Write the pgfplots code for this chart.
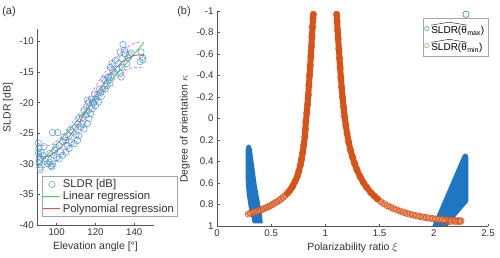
\documentclass[border=0pt]{standalone}
\usepackage{fontspec}
\setmainfont{Liberation Sans}
\usepackage{pgfplots}
\pgfplotsset{compat=1.18}
\definecolor{mblue}{HTML}{0072BD}
\definecolor{fblue}{HTML}{1F76C2}
\definecolor{morange}{HTML}{D95319}
\definecolor{lorange}{HTML}{EBA07E}
\definecolor{sblue}{HTML}{4A9AD8}
\definecolor{axgray}{HTML}{555555}
\definecolor{txtgray}{HTML}{333333}
\definecolor{lgreen}{HTML}{3EDC3E}
\definecolor{lred}{HTML}{FF4A4A}
\definecolor{lmag}{HTML}{F050F0}
\newsavebox\hmax
\newsavebox\hmin
\begin{document}
\sbox\hmax{\tikz[baseline=(t.base)]{\node[inner sep=0pt](t){SLDR(θ}; \draw[line width=0.35pt] ([yshift=1pt]t.north west) -- ([yshift=4pt]t.north) -- ([yshift=1pt]t.north east);}\textsubscript{max})}%
\sbox\hmin{\tikz[baseline=(t.base)]{\node[inner sep=0pt](t){SLDR(θ}; \draw[line width=0.35pt] ([yshift=1pt]t.north west) -- ([yshift=4pt]t.north) -- ([yshift=1pt]t.north east);}\textsubscript{min})}%
\begin{tikzpicture}
\useasboundingbox (0pt,0pt) rectangle (500pt,257pt);
\node[font=\fontsize{11}{12}\selectfont, text=txtgray] at (9pt,245pt) {(a)};
\node[font=\fontsize{11}{12}\selectfont, text=txtgray] at (184pt,245pt) {(b)};
\pgfplotsset{
  mystyle/.style={
    scale only axis, anchor=south west,
    axis x line*=bottom, axis y line*=left,
    axis line style={axgray, line width=0.5pt, -},
    tick style={axgray, line width=0.5pt}, major tick length=2.5pt,
    tick label style={font=\fontsize{9.7}{10}\selectfont, text=txtgray},
    label style={font=\fontsize{10.5}{12}\selectfont, text=txtgray},
    /pgf/number format/assume math mode=true,
    legend cell align=left,
  }
}
\begin{axis}[mystyle,
  at={(37.3pt,32pt)}, width=116.3pt, height=195.7pt,
  xmin=90, xmax=150, ymin=-40, ymax=-8,
  xtick={100,120,140}, ytick={-40,-35,-30,-25,-20,-15,-10},
  xlabel={Elevation angle [°]}, ylabel={SLDR [dB]},
  ylabel style={at={(ticklabel cs:0.6)}},
  legend style={at={(0.038,0.042)}, anchor=south west, draw=gray!70, fill=white,
    font=\fontsize{11.3}{10.5}\selectfont, inner sep=1pt, row sep=-1.5pt, text=txtgray},
]
\addplot[only marks, mark=o, mark size=3.2pt, sblue, line width=0.5pt] coordinates {
(90.5,-26.6) (90.8,-27.5) (90.6,-28.2) (91.0,-28.8) (91.2,-29.4) (90.9,-29.9) (91.3,-30.6) (91.5,-31.0)
(92.0,-28.1) (92.9,-28.6) (93.5,-27.2) (94.0,-29.6) (94.5,-29.2) (95.3,-30.0) (96.2,-29.7) (96.5,-28.3)
(97.1,-30.3) (97.9,-30.0) (97.5,-30.5) (97.9,-24.9) (100.5,-24.9) (98.5,-28.6) (99.0,-27.8) (99.6,-27.3)
(100.0,-29.0) (101.3,-29.2) (101.4,-27.0) (102.0,-28.0) (103.0,-28.6) (103.1,-26.4) (104.0,-25.6) (104.7,-26.2)
(104.7,-28.1) (105.5,-27.0) (106.4,-25.4) (106.4,-27.5) (107.0,-24.5) (107.5,-26.5) (108.2,-24.8) (109.0,-26.7)
(109.8,-24.0) (110.0,-25.2) (110.7,-26.2) (111.0,-23.5) (111.5,-22.6) (111.5,-25.4) (112.3,-24.0) (113.3,-22.4)
(113.5,-23.6) (114.1,-21.3) (114.1,-24.3) (115.0,-22.0) (115.6,-21.4) (115.8,-19.6) (115.8,-23.4) (116.3,-20.0)
(116.6,-22.6) (117.0,-20.7) (117.5,-21.8) (118.0,-19.4) (118.4,-19.9) (118.4,-21.0) (119.0,-20.0) (119.5,-18.6)
(120.0,-19.4) (120.0,-20.5) (120.9,-18.8) (121.5,-19.9) (122.0,-17.8) (122.6,-18.3) (123.0,-19.0) (123.8,-17.7)
(124.3,-16.2) (125.0,-17.8) (125.2,-16.4) (126.0,-17.2) (126.3,-15.9) (126.8,-15.8) (127.5,-16.8) (127.7,-14.2)
(128.0,-15.6) (128.6,-13.6) (128.9,-14.7) (129.5,-15.0) (130.3,-13.1) (131.0,-14.5) (132.0,-13.6) (132.8,-11.7)
(133.0,-15.2) (133.3,-15.8) (133.7,-12.8) (133.7,-14.2) (134.2,-10.5) (135.0,-11.4) (135.4,-12.0) (136.2,-13.6)
(137.0,-12.6) (137.5,-12.2) (138.4,-11.9) (143.0,-13.3) (143.5,-11.7) (144.2,-12.6) (144.5,-13.0)
};
\addlegendentry{SLDR [dB]}
\addplot[lgreen, line width=0.8pt] coordinates {(90,-30.5) (145,-10.2)};
\addlegendentry{Linear regression}
\addplot[lred, line width=0.8pt] coordinates {
(90,-28.6) (92.5,-28.85) (95,-28.8) (97.5,-28.5) (100,-27.9) (102.5,-27.2) (105,-26.2) (107.5,-25.1)
(110,-24.0) (112.5,-22.8) (115,-21.5) (117.5,-20.2) (120,-18.9) (122.5,-17.7) (125,-16.5) (127.5,-15.4)
(130,-14.5) (132.5,-13.7) (135,-13.0) (137.5,-12.6) (140,-12.3) (142.5,-12.2) (145,-12.3)};
\addlegendentry{Polynomial regression}
\addplot[lmag, line width=0.6pt, dash pattern=on 3pt off 2pt, forget plot] coordinates {
(90,-26.6) (92.5,-27.0) (95,-27.1) (97.5,-26.9) (100,-26.3) (102.5,-25.6) (105,-24.6) (107.5,-23.5)
(110,-22.4) (112.5,-21.3) (115,-20.0) (117.5,-18.7) (120,-17.4) (122.5,-16.2) (125,-15.0) (127.5,-13.9)
(130,-12.9) (132.5,-12.0) (135,-11.2) (137.5,-10.7) (140,-10.3) (142.5,-10.1) (145,-10.1)};
\addplot[lmag, line width=0.6pt, dash pattern=on 3pt off 2pt, forget plot] coordinates {
(90,-30.6) (92.5,-30.7) (95,-30.5) (97.5,-30.1) (100,-29.5) (102.5,-28.8) (105,-27.8) (107.5,-26.7)
(110,-25.6) (112.5,-24.3) (115,-23.0) (117.5,-21.7) (120,-20.4) (122.5,-19.2) (125,-18.0) (127.5,-16.9)
(130,-16.1) (132.5,-15.4) (135,-14.8) (137.5,-14.4) (140,-14.2) (142.5,-14.2) (145,-14.4)};
\end{axis}
\begin{axis}[mystyle,
  at={(217pt,31pt)}, width=271pt, height=215pt,
  xmin=0, xmax=2.5, ymin=-1, ymax=1, y dir=reverse, clip=false,
  xtick={0,0.5,1,1.5,2,2.5},
  ytick={-1,-0.8,-0.6,-0.4,-0.2,0,0.2,0.4,0.6,0.8,1},
  xlabel={Polarizability ratio $\xi$}, ylabel={Degree of orientation $\kappa$},
  ylabel style={at={(ticklabel cs:0.45)}},
  legend style={at={(1,0.966)}, anchor=north east, draw=gray!70, fill=white,
    font=\fontsize{10.5}{10}\selectfont, inner sep=1.5pt, row sep=0pt, text=txtgray},
]
% blue regions
\addplot[fill=fblue, draw=fblue, line width=1.4pt, line join=round, forget plot] coordinates {
(0.27,0.30) (0.277,0.26) (0.29,0.248) (0.303,0.255) (0.315,0.285) (0.36,0.62) (0.40,0.84) (0.412,0.93)
(0.415,0.97) (0.335,0.97) (0.328,0.93) (0.30,0.83) (0.28,0.70) (0.27,0.55)} -- cycle;
\addplot[fill=fblue, draw=fblue, line width=1.4pt, line join=round, forget plot] coordinates {
(1.995,0.995) (2.27,0.35) (2.285,0.332) (2.302,0.337) (2.312,0.36) (2.312,0.77) (2.13,0.985) (2.125,0.995)} -- cycle;
\addplot[only marks, mark=o, mark size=3.2pt, mblue, line width=0.5pt, forget plot] coordinates {(2.297,-0.969)};
% orange light underlay (tails)
\addplot[lorange, line width=5pt, line join=round, line cap=round, forget plot] coordinates {
(0.29,0.888) (0.31,0.881) (0.33,0.875) (0.35,0.868) (0.37,0.861) (0.39,0.855) (0.41,0.848) (0.43,0.840)
(0.45,0.831) (0.47,0.822) (0.49,0.812) (0.51,0.801) (0.53,0.789) (0.55,0.777) (0.57,0.764) (0.59,0.750)
(0.61,0.733) (0.63,0.715) (0.65,0.695) (0.67,0.672) (0.69,0.643)};
\addplot[lorange, line width=5pt, line join=round, line cap=round, forget plot] coordinates {
(1.42,0.69) (1.45,0.72) (1.48,0.748) (1.51,0.772) (1.54,0.793) (1.57,0.811) (1.60,0.825) (1.63,0.839)
(1.66,0.851) (1.69,0.862) (1.72,0.872) (1.75,0.882) (1.78,0.890) (1.81,0.898) (1.84,0.905) (1.87,0.911)
(1.90,0.917) (1.93,0.922) (1.96,0.927) (1.99,0.931) (2.02,0.935) (2.05,0.938) (2.08,0.941) (2.11,0.943)
(2.14,0.946) (2.17,0.948) (2.20,0.949) (2.23,0.951) (2.25,0.952)};
% orange thick core
\addplot[morange, line width=6pt, line join=round, line cap=round, forget plot] coordinates {
(0.65,0.695) (0.67,0.672) (0.69,0.643)
(0.70,0.625) (0.72,0.585) (0.74,0.54) (0.755,0.49) (0.77,0.43) (0.78,0.38) (0.79,0.32) (0.80,0.25)
(0.81,0.17) (0.815,0.10) (0.82,0.03) (0.828,-0.05) (0.835,-0.13) (0.842,-0.22) (0.848,-0.31) (0.854,-0.40)
(0.86,-0.49) (0.866,-0.58) (0.871,-0.67) (0.876,-0.76) (0.881,-0.85) (0.886,-0.93) (0.889,-0.97)};
\addplot[morange, line width=6pt, line join=round, line cap=round, forget plot] coordinates {
(1.104,-0.97) (1.108,-0.90) (1.113,-0.82) (1.118,-0.74) (1.124,-0.65) (1.130,-0.56) (1.136,-0.47) (1.143,-0.38)
(1.150,-0.29) (1.158,-0.20) (1.167,-0.11) (1.177,-0.02) (1.188,0.06) (1.20,0.14) (1.215,0.22) (1.23,0.29)
(1.25,0.36) (1.27,0.42) (1.29,0.475) (1.32,0.54) (1.35,0.595) (1.38,0.64) (1.42,0.69) (1.45,0.72) (1.48,0.748)};
% orange markers
\addplot[only marks, mark=o, mark size=3.2pt, morange, line width=0.6pt, forget plot] coordinates {
(0.29,0.888) (0.31,0.881) (0.33,0.875) (0.35,0.868) (0.37,0.861) (0.39,0.855) (0.41,0.848) (0.43,0.840)
(0.45,0.831) (0.47,0.822) (0.49,0.812) (0.51,0.801) (0.53,0.789) (0.55,0.777) (0.57,0.764) (0.59,0.750)
(0.61,0.733) (0.63,0.715) (0.65,0.695) (0.67,0.672) (0.69,0.643)
(0.70,0.625) (0.72,0.585) (0.74,0.54) (0.755,0.49) (0.77,0.43) (0.78,0.38) (0.79,0.32) (0.80,0.25)
(0.81,0.17) (0.815,0.10) (0.82,0.03) (0.828,-0.05) (0.835,-0.13) (0.842,-0.22) (0.848,-0.31) (0.854,-0.40)
(0.86,-0.49) (0.866,-0.58) (0.871,-0.67) (0.876,-0.76) (0.881,-0.85) (0.886,-0.93) (0.889,-0.97)
(1.104,-0.97) (1.108,-0.90) (1.113,-0.82) (1.118,-0.74) (1.124,-0.65) (1.130,-0.56) (1.136,-0.47) (1.143,-0.38)
(1.150,-0.29) (1.158,-0.20) (1.167,-0.11) (1.177,-0.02) (1.188,0.06) (1.20,0.14) (1.215,0.22) (1.23,0.29)
(1.25,0.36) (1.27,0.42) (1.29,0.475) (1.32,0.54) (1.35,0.595) (1.38,0.64)
(1.42,0.69) (1.45,0.72) (1.48,0.748) (1.51,0.772) (1.54,0.793) (1.57,0.811) (1.60,0.825) (1.63,0.839)
(1.66,0.851) (1.69,0.862) (1.72,0.872) (1.75,0.882) (1.78,0.890) (1.81,0.898) (1.84,0.905) (1.87,0.911)
(1.90,0.917) (1.93,0.922) (1.96,0.927) (1.99,0.931) (2.02,0.935) (2.05,0.938) (2.08,0.941) (2.11,0.943)
(2.14,0.946) (2.17,0.948) (2.20,0.949) (2.23,0.951) (2.25,0.952)
(2.10,0.958) (2.15,0.96) (2.20,0.96) (2.24,0.96)};
\addlegendimage{only marks, mark=o, mark size=2.2pt, sblue, line width=0.5pt}
\addlegendentry{\usebox\hmax}
\addlegendimage{only marks, mark=o, mark size=2.2pt, morange!70!white, line width=0.5pt}
\addlegendentry{\usebox\hmin}
\end{axis}
\end{tikzpicture}
\end{document}
